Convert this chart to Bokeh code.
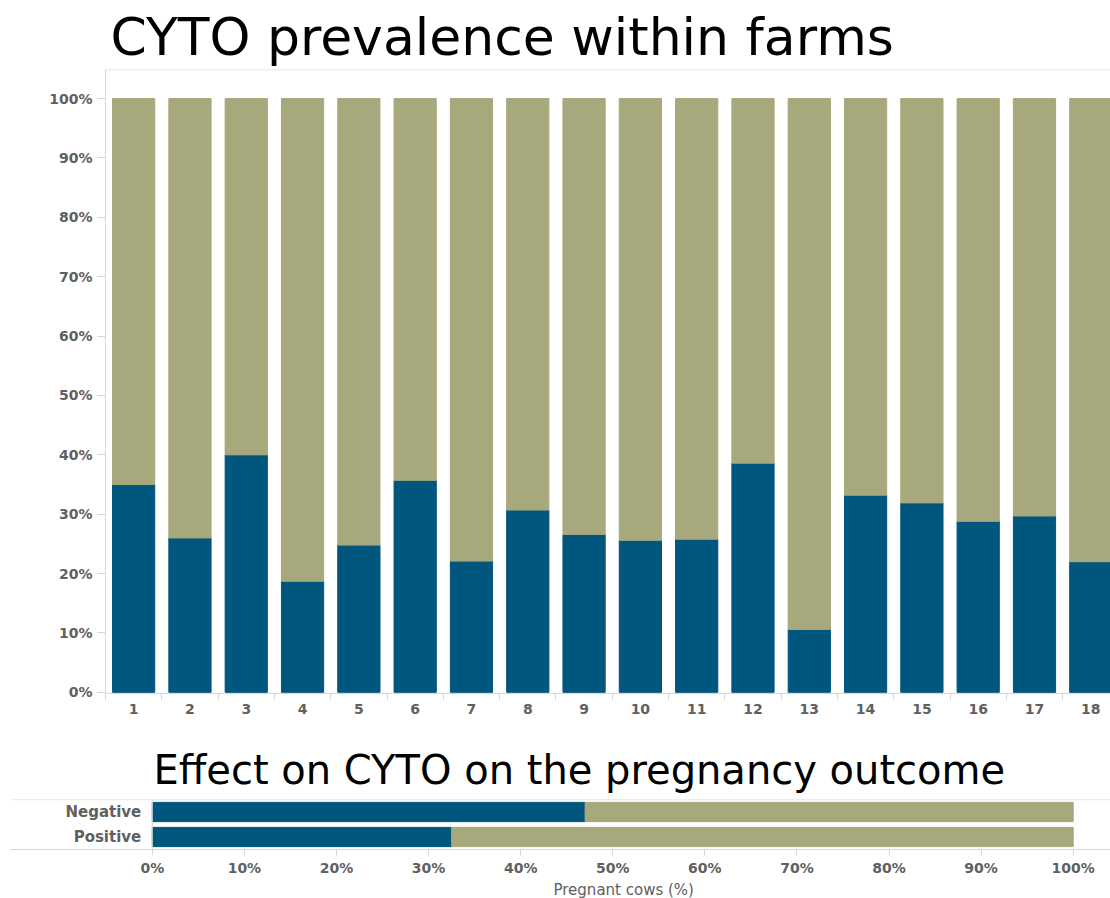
from bokeh.plotting import figure
from bokeh.models import ColumnDataSource, FixedTicker, Span, Range1d, FactorRange, Title
from bokeh.layouts import column
from bokeh.embed import file_html
from bokeh.resources import INLINE
from bokeh.core.properties import value

# ---- data ----
farms = list(range(1, 19))
farm_labels = [str(f) for f in farms]
cyto_positive = [35.0, 26.0, 40.0, 18.7, 24.8, 35.7, 22.1, 30.7, 26.6, 25.6, 25.8, 38.6, 10.6, 33.2, 31.9, 28.8, 29.7, 22.0]
cyto_negative = [65.0, 74.0, 60.0, 81.3, 75.2, 64.3, 77.9, 69.3, 73.4, 74.4, 74.2, 61.4, 89.4, 66.8, 68.1, 71.2, 70.3, 78.0]
pct_ticks = [0, 10, 20, 30, 40, 50, 60, 70, 80, 90, 100]
pct_labels = ["0%", "10%", "20%", "30%", "40%", "50%", "60%", "70%", "80%", "90%", "100%"]

outcome = ["Negative", "Positive"]
outcome_cyto_pos = [47.0, 32.5]
outcome_cyto_neg = [53.0, 67.5]

BLUE = "#00567d"
KHAKI = "#a8a87d"
AXIS_C = "#d6d6d6"
LABEL_C = "#606060"
TICK_FONT = "DejaVu Sans"
TITLE_FONT = "DejaVu Sans"

# ---- top chart ----
src = ColumnDataSource(dict(farm=farms, pos=cyto_positive, neg=cyto_negative))
p = figure(width=1110, height=728, x_range=Range1d(0.5, 18.35), y_range=Range1d(-0.2, 104.9),
           output_backend="svg", toolbar_location=None,
           min_border_left=105, min_border_right=0, min_border_top=69, min_border_bottom=35)
p.frame_align = False
p.vbar_stack(["pos", "neg"], x="farm", width=0.75, color=[BLUE, KHAKI], source=src)
p.outline_line_color = None
p.grid.visible = False

p.title.text = "CYTO prevalence within farms"
p.title.text_font = TITLE_FONT
p.title.text_font_size = "52px"
p.title.text_font_style = "normal"
p.title.text_color = "black"
p.title.offset = 5
p.title.standoff = 6

xa = p.xaxis[0]
xa.ticker = FixedTicker(ticks=farms, minor_ticks=[f - 0.5 for f in farms] + [18.5])
xa.major_label_overrides = {f: l for f, l in zip(farms, farm_labels)}
xa.major_tick_out = 0
xa.major_tick_in = 0
xa.minor_tick_out = 6
xa.minor_tick_in = 0
xa.minor_tick_line_color = AXIS_C
xa.axis_line_color = AXIS_C
xa.major_label_standoff = 4
xa.major_label_text_font = TICK_FONT
xa.major_label_text_font_style = "bold"
xa.major_label_text_font_size = "14px"
xa.major_label_text_color = LABEL_C

ya = p.yaxis[0]
ya.ticker = FixedTicker(ticks=pct_ticks, minor_ticks=[])
ya.major_label_overrides = {t: l for t, l in zip(pct_ticks, pct_labels)}
ya.major_tick_out = 8
ya.major_tick_in = 0
ya.major_tick_line_color = AXIS_C
ya.axis_line_color = AXIS_C
ya.major_label_standoff = 5
ya.major_label_text_font = TICK_FONT
ya.major_label_text_font_style = "bold"
ya.major_label_text_font_size = "14px"
ya.major_label_text_color = LABEL_C

p.add_layout(Span(location=104.85, dimension="width", line_color=AXIS_C, line_width=1))

# ---- bottom chart ----
src2 = ColumnDataSource(dict(outcome=outcome, pos=outcome_cyto_pos, neg=outcome_cyto_neg))
p2 = figure(width=1110, height=170, x_range=Range1d(-15.4, 104.05),
            y_range=FactorRange(factors=outcome[::-1]),
            output_backend="svg", toolbar_location=None,
            min_border_left=10, min_border_right=0, min_border_top=71, min_border_bottom=49)
p2.frame_align = False
p2.hbar_stack(["pos", "neg"], y="outcome", height=0.77, color=[BLUE, KHAKI], source=src2)
label_x = [-1.2] * len(outcome)
p2.text(x=label_x, y=outcome, text=outcome, text_align="right", text_baseline="middle",
        text_font=value(TICK_FONT), text_font_style="bold", text_font_size="15px", text_color=LABEL_C)
p2.outline_line_color = None
p2.grid.visible = False
p2.yaxis.visible = False

p2.title.text = "Effect on CYTO on the pregnancy outcome"
p2.title.text_font = TITLE_FONT
p2.title.text_font_size = "40px"
p2.title.text_font_style = "normal"
p2.title.text_color = "black"
p2.title.offset = 143
p2.title.standoff = 13

xb = p2.xaxis[0]
xb.ticker = FixedTicker(ticks=pct_ticks, minor_ticks=[])
xb.major_label_overrides = {t: l for t, l in zip(pct_ticks, pct_labels)}
xb.major_tick_out = 6
xb.major_tick_in = 0
xb.major_tick_line_color = AXIS_C
xb.axis_line_color = AXIS_C
xb.major_label_standoff = 4
xb.major_label_text_font = TICK_FONT
xb.major_label_text_font_style = "bold"
xb.major_label_text_font_size = "14px"
xb.major_label_text_color = LABEL_C

p2.add_layout(Span(location=1.995, dimension="width", line_color=AXIS_C, line_width=1))
p2.add_layout(Span(location=0, dimension="height", line_color=AXIS_C, line_width=1))
p2.add_layout(Title(text="Pregnant cows (%)", align="left", offset=543, text_font=TICK_FONT,
                    text_font_size="15px", text_font_style="normal", text_color=LABEL_C,
                    standoff=0), "below")

layout = column(p, p2, spacing=0)
open("out.html", "w").write(file_html(layout, INLINE))
